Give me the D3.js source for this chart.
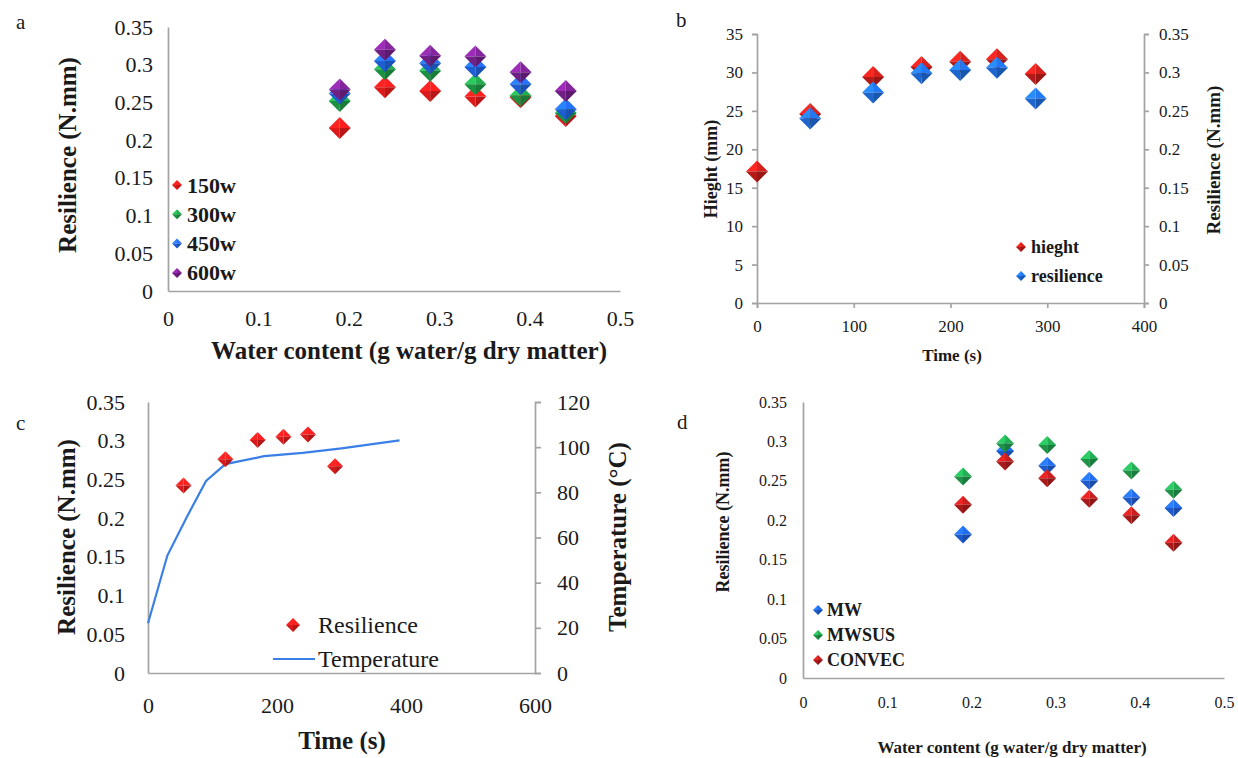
<!DOCTYPE html>
<html>
<head>
<meta charset="utf-8">
<script src="https://cdn.jsdelivr.net/npm/d3@7"></script>
<style>
  body { margin: 0; background: #fff; }
  svg { display: block; }
  svg text { font-family: 'Liberation Serif', 'Times New Roman', serif; }
</style>
</head>
<body>
<div id="chart"></div>
<script>
// 데이터
const resTicks = [0, 0.05, 0.1, 0.15, 0.2, 0.25, 0.3, 0.35];
const waterTicks = [0, 0.1, 0.2, 0.3, 0.4, 0.5];

// (a) 출력별 회복력
const aWater = [0.19, 0.24, 0.29, 0.34, 0.39, 0.44];
const a150 = [0.216, 0.270, 0.265, 0.258, 0.257, 0.232];
const a300 = [0.252, 0.294, 0.292, 0.274, 0.259, 0.236];
const a450 = [0.262, 0.305, 0.302, 0.297, 0.274, 0.241];
const a600 = [0.267, 0.320, 0.312, 0.311, 0.290, 0.265];
const aNames = ["150w", "300w", "450w", "600w"];

// (b) 높이 / 회복력
const bTimeTicks = [0, 100, 200, 300, 400];
const bHeightTicks = [0, 5, 10, 15, 20, 25, 30, 35];
const bTimeH = [0, 55, 120, 170, 210, 248, 288];
const bHeight = [17.1, 24.6, 29.4, 30.7, 31.4, 31.7, 29.8];
const bTimeR = [55, 120, 170, 210, 248, 288];
const bRes = [0.240, 0.274, 0.299, 0.303, 0.306, 0.266];

// (c) 회복력 / 온도
const cTimeTicks = [0, 200, 400, 600];
const cTempTicks = [0, 20, 40, 60, 80, 100, 120];
const cTimeR = [55, 120, 170, 210, 248, 290];
const cRes = [0.242, 0.276, 0.301, 0.305, 0.308, 0.267];
const cTimeT = [0, 30, 60, 90, 120, 180, 240, 300, 390];
const cTemp = [22, 52, 69, 85, 92.5, 96, 97.5, 99.5, 103];

// (d) 건조 방법별
const dWater = [0.19, 0.24, 0.29, 0.34, 0.39, 0.44];
const dMW = [0.182, 0.288, 0.269, 0.250, 0.229, 0.2155];
const dMWSUS = [0.2555, 0.2975, 0.2954, 0.2777, 0.263, 0.2387];
const dCONVEC = [0.2197, 0.2744, 0.2534, 0.2273, 0.2063, 0.1714];
const dNames = ["MW", "MWSUS", "CONVEC"];

const serif = "'Liberation Serif', 'Times New Roman', serif";
const axisGray = "#a3a3a3";
const txt = "#1a1a1a";
const fmt = d => String(+d.toFixed(2));

const svg = d3.select("#chart").append("svg")
	.attr("width", 1238)
	.attr("height", 758)
	.style("background", "#fff");

// 3D 느낌 다이아몬드 마커
function diamonds(g, xs, ys, x, y, color, r) {
	const c = d3.color(color);
	const facets = [
		{ p: [[0, -r], [-r, 0], [0, 0]], f: c.brighter(0.7) },
		{ p: [[0, -r], [r, 0], [0, 0]], f: c.brighter(0.25) },
		{ p: [[-r, 0], [0, r], [0, 0]], f: c.darker(0.25) },
		{ p: [[r, 0], [0, r], [0, 0]], f: c.darker(0.7) }
	];
	const m = g.append("g").selectAll("g")
		.data(d3.zip(xs, ys))
		.join("g")
		.attr("transform", d => `translate(${x(d[0])},${y(d[1])})`);
	facets.forEach(fc => {
		m.append("path")
			.attr("d", "M" + fc.p.join("L") + "Z")
			.attr("fill", fc.f);
	});
}

function styleAxis(sel, size) {
	sel.style("font-family", serif).style("font-size", size + "px");
	sel.select(".domain").attr("stroke", axisGray).attr("stroke-width", 1.7);
	sel.selectAll(".tick line").attr("stroke", axisGray).attr("stroke-width", 1.7);
	sel.selectAll("text")
		.style("font-family", serif)
		.style("font-size", size + "px")
		.attr("fill", txt);
}

function label(g, str, x, y, size, opts = {}) {
	const t = g.append("text")
		.attr("x", x)
		.attr("y", y)
		.style("font-family", serif)
		.style("font-size", size + "px")
		.style("font-weight", opts.bold ? "bold" : "normal")
		.attr("fill", txt)
		.attr("text-anchor", opts.anchor || "start")
		.attr("dominant-baseline", "central")
		.text(str);
	if (opts.rotate) t.attr("transform", `rotate(-90,${x},${y})`);
	return t;
}

/////////////////////////////////////////////////////////////////////////////////
// (a)
{
	const g = svg.append("g");
	const x = d3.scaleLinear().domain([0, 0.5]).range([168, 620]);
	const y = d3.scaleLinear().domain([0, 0.35]).range([291, 27]);

	g.append("g").attr("transform", `translate(0,${y(0)})`)
		.call(d3.axisBottom(x).tickValues(waterTicks).tickFormat(fmt).tickSize(0).tickPadding(19))
		.call(s => styleAxis(s, 22));
	g.append("g").attr("transform", `translate(${x(0)},0)`)
		.call(d3.axisLeft(y).tickValues(resTicks).tickFormat(fmt).tickSize(0).tickPadding(15))
		.call(s => styleAxis(s, 22));

	const cols = ["#f01c1c", "#1f9e48", "#2266e6", "#7a2290"];
	[a150, a300, a450, a600].forEach((vals, i) => diamonds(g, aWater, vals, x, y, cols[i], 11));

	aNames.forEach((n, i) => {
		const ly = 185 + i * 29.3;
		diamonds(g, [0], [0], () => 177, () => ly, cols[i], 5);
		label(g, n, 187, ly, 22, { bold: true });
	});

	label(g, "a", 16, 22, 21);
	label(g, "Resilience (N.mm)", 67, 155, 25, { bold: true, anchor: "middle", rotate: true });
	label(g, "Water content (g water/g dry matter)", 409, 350, 25, { bold: true, anchor: "middle" });
}

/////////////////////////////////////////////////////////////////////////////////
// (b)
{
	const g = svg.append("g");
	const x = d3.scaleLinear().domain([0, 400]).range([757, 1144]);
	const yH = d3.scaleLinear().domain([0, 35]).range([303, 34]);
	const yR = d3.scaleLinear().domain([0, 0.35]).range([303, 34]);

	g.append("g").attr("transform", `translate(0,${yH(0)})`)
		.call(d3.axisBottom(x).tickValues(bTimeTicks).tickSize(5).tickPadding(12))
		.call(s => styleAxis(s, 17));
	g.append("g").attr("transform", `translate(${x(0)},0)`)
		.call(d3.axisLeft(yH).tickValues(bHeightTicks).tickSize(5).tickPadding(9))
		.call(s => styleAxis(s, 17));
	g.append("g").attr("transform", `translate(${x(400)},0)`)
		.call(d3.axisRight(yR).tickValues(resTicks).tickFormat(fmt).tickSize(5).tickPadding(10))
		.call(s => styleAxis(s, 17));

	diamonds(g, bTimeH, bHeight, x, yH, "#c41e1a", 11);
	diamonds(g, bTimeR, bRes, x, yR, "#1f6fe0", 11);

	diamonds(g, [0], [0], () => 1021, () => 247, "#c41e1a", 5);
	label(g, "hieght", 1031, 247, 18, { bold: true });
	diamonds(g, [0], [0], () => 1021, () => 276, "#1f6fe0", 5);
	label(g, "resilience", 1031, 276, 18, { bold: true });

	label(g, "b", 676, 20, 21);
	label(g, "Hieght (mm)", 711, 169, 18, { bold: true, anchor: "middle", rotate: true });
	label(g, "Resilience (N.mm)", 1213, 160, 19, { bold: true, anchor: "middle", rotate: true });
	label(g, "Time (s)", 952, 355, 17, { bold: true, anchor: "middle" });
}

/////////////////////////////////////////////////////////////////////////////////
// (c)
{
	const g = svg.append("g");
	const x = d3.scaleLinear().domain([0, 600]).range([148, 535]);
	const yR = d3.scaleLinear().domain([0, 0.35]).range([673, 402]);
	const yT = d3.scaleLinear().domain([0, 120]).range([673, 402]);

	g.append("g").attr("transform", `translate(0,${yR(0)})`)
		.call(d3.axisBottom(x).tickValues(cTimeTicks).tickSize(0).tickPadding(24))
		.call(s => styleAxis(s, 22));
	g.append("g").attr("transform", `translate(${x(0)},0)`)
		.call(d3.axisLeft(yR).tickValues(resTicks).tickFormat(fmt).tickSize(0).tickPadding(23))
		.call(s => styleAxis(s, 22));
	g.append("g").attr("transform", `translate(${x(600)},0)`)
		.call(d3.axisRight(yT).tickValues(cTempTicks).tickSize(6).tickPadding(16))
		.call(s => styleAxis(s, 22));

	g.append("path")
		.datum(d3.zip(cTimeT, cTemp))
		.attr("fill", "none")
		.attr("stroke", "#3a7fe6")
		.attr("stroke-width", 2.2)
		.attr("d", d3.line().x(d => x(d[0])).y(d => yT(d[1])));

	diamonds(g, cTimeR, cRes, x, yR, "#e81c1c", 8);

	diamonds(g, [0], [0], () => 293, () => 625, "#e81c1c", 7);
	label(g, "Resilience", 318, 625, 24);
	g.append("line")
		.attr("x1", 273).attr("x2", 315).attr("y1", 659).attr("y2", 659)
		.attr("stroke", "#3a7fe6").attr("stroke-width", 2.2);
	label(g, "Temperature", 318, 659, 24);

	label(g, "c", 16, 423, 21);
	label(g, "Resilience (N.mm)", 66, 537, 25, { bold: true, anchor: "middle", rotate: true });
	label(g, "Temperature (\u00B0C)", 617, 537, 25, { bold: true, anchor: "middle", rotate: true });
	label(g, "Time (s)", 342, 740, 25, { bold: true, anchor: "middle" });
}

/////////////////////////////////////////////////////////////////////////////////
// (d)
{
	const g = svg.append("g");
	const x = d3.scaleLinear().domain([0, 0.5]).range([803, 1224]);
	const y = d3.scaleLinear().domain([0, 0.35]).range([678, 402]);

	g.append("g").attr("transform", `translate(0,${y(0)})`)
		.call(d3.axisBottom(x).tickValues(waterTicks).tickFormat(fmt).tickSize(0).tickPadding(19))
		.call(s => styleAxis(s, 16));
	g.append("g").attr("transform", `translate(${x(0)},0)`)
		.call(d3.axisLeft(y).tickValues(resTicks).tickFormat(fmt).tickSize(0).tickPadding(16))
		.call(s => styleAxis(s, 16));

	const cols = ["#2163dc", "#22a04e", "#b81c1c"];
	[dMW, dMWSUS, dCONVEC].forEach((vals, i) => diamonds(g, dWater, vals, x, y, cols[i], 9));

	dNames.forEach((n, i) => {
		const ly = 610 + i * 25;
		diamonds(g, [0], [0], () => 818, () => ly, cols[i], 5);
		label(g, n, 827, ly, 18, { bold: true });
	});

	label(g, "d", 677, 422, 21);
	label(g, "Resilience (N.mm)", 723, 522, 18, { bold: true, anchor: "middle", rotate: true });
	label(g, "Water content (g water/g dry matter)", 1012, 747, 17, { bold: true, anchor: "middle" });
}
</script>
</body>
</html>
